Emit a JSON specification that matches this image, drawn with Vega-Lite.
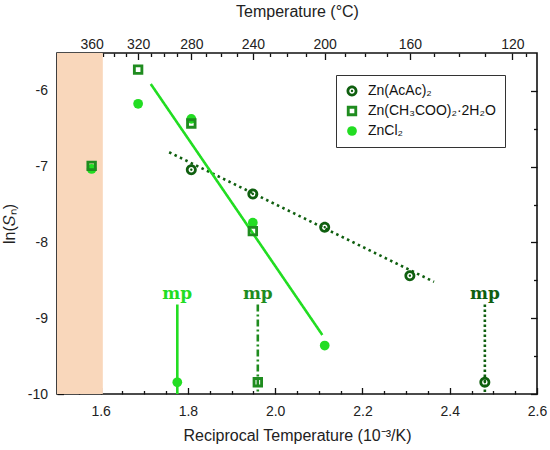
{
  "$schema": "https://vega.github.io/schema/vega-lite/v6.json",
  "width": 480,
  "height": 341,
  "autosize": "none",
  "padding": {"left": 57, "top": 53, "right": 13, "bottom": 56},
  "background": "white",
  "datasets": {
    "band": [{"x": 1.5, "x2": 1.605, "y": -10, "y2": -5.5}],
    "fits": [
      {"compound": "Zn(AcAc)₂", "x": 1.757, "y": -6.81},
      {"compound": "Zn(AcAc)₂", "x": 2.364, "y": -8.52},
      {"compound": "ZnCl₂", "x": 1.715, "y": -5.91},
      {"compound": "ZnCl₂", "x": 2.108, "y": -9.22}
    ],
    "points": [
      {"compound": "ZnCl₂", "x": 1.5794, "y": -7.03},
      {"compound": "ZnCl₂", "x": 1.6859, "y": -6.17},
      {"compound": "ZnCl₂", "x": 1.8078, "y": -6.37},
      {"compound": "ZnCl₂", "x": 1.9488, "y": -7.74},
      {"compound": "ZnCl₂", "x": 2.1135, "y": -9.36},
      {"compound": "ZnCl₂", "x": 1.7757, "y": -9.845},
      {"compound": "Zn(CH₃COO)₂·2H₂O", "x": 1.5794, "y": -6.99},
      {"compound": "Zn(CH₃COO)₂·2H₂O", "x": 1.6859, "y": -5.72},
      {"compound": "Zn(CH₃COO)₂·2H₂O", "x": 1.8078, "y": -6.43},
      {"compound": "Zn(CH₃COO)₂·2H₂O", "x": 1.9488, "y": -7.85},
      {"compound": "Zn(CH₃COO)₂·2H₂O", "x": 1.9602, "y": -9.845},
      {"compound": "Zn(AcAc)₂", "x": 1.8078, "y": -7.04},
      {"compound": "Zn(AcAc)₂", "x": 1.9488, "y": -7.36},
      {"compound": "Zn(AcAc)₂", "x": 2.1135, "y": -7.8},
      {"compound": "Zn(AcAc)₂", "x": 2.3087, "y": -8.44},
      {"compound": "Zn(AcAc)₂", "x": 2.4805, "y": -9.845}
    ],
    "mp": [
      {"compound": "ZnCl₂", "label": "mp", "x": 1.7757, "y": -8.82, "y2": -10, "ty": -8.74},
      {"compound": "Zn(CH₃COO)₂·2H₂O", "label": "mp", "x": 1.9602, "y": -8.82, "y2": -10, "ty": -8.74},
      {"compound": "Zn(AcAc)₂", "label": "mp", "x": 2.4805, "y": -8.82, "y2": -10, "ty": -8.74}
    ]
  },
  "encoding": {
    "x": {"field": "x", "type": "quantitative", "scale": {"domain": [1.5, 2.6], "nice": false, "zero": false}, "axis": null},
    "y": {"field": "y", "type": "quantitative", "scale": {"domain": [-10, -5.5], "nice": false, "zero": false}, "axis": null}
  },
  "layer": [
    {
      "data": {"name": "band"},
      "mark": {"type": "rect", "color": "#f9d7bb"},
      "encoding": {
        "x": {
          "field": "x", "type": "quantitative",
          "scale": {"domain": [1.5, 2.6], "nice": false, "zero": false},
          "axis": {
            "orient": "bottom", "values": [1.6, 1.8, 2.0, 2.2, 2.4, 2.6], "format": ".1f",
            "tickSize": -6.5, "labelPadding": 16.5,
            "title": "Reciprocal Temperature (10⁻³/K)", "titlePadding": 9
          }
        },
        "x2": {"field": "x2"},
        "y2": {"field": "y2"}
      }
    },
    {
      "data": {"name": "fits"},
      "mark": {"type": "line", "strokeWidth": 2.6},
      "encoding": {
        "x": {
          "field": "x", "type": "quantitative",
          "scale": {"domain": [1.5, 2.6], "nice": false, "zero": false},
          "axis": {
            "orient": "bottom",
            "values": [1.55, 1.65, 1.7, 1.75, 1.85, 1.9, 1.95, 2.05, 2.1, 2.15, 2.25, 2.3, 2.35, 2.45, 2.5, 2.55],
            "tickSize": -3.5, "labels": false, "title": null
          }
        },
        "y": {
          "field": "y", "type": "quantitative",
          "scale": {"domain": [-10, -5.5], "nice": false, "zero": false},
          "axis": {
            "orient": "left", "values": [-10, -9, -8, -7, -6],
            "labelExpr": "'-' + format(-datum.value, 'd')",
            "tickSize": -6.5, "labelPadding": 16,
            "title": "ln(𝑆ₙ)", "titlePadding": 10
          }
        },
        "color": {
          "field": "compound", "type": "nominal", "legend": null,
          "scale": {"domain": ["Zn(AcAc)₂", "Zn(CH₃COO)₂·2H₂O", "ZnCl₂"], "range": ["#0f5f0f", "#1f8c1f", "#22dd22"]}
        },
        "strokeDash": {
          "field": "compound", "type": "nominal", "legend": null,
          "scale": {"domain": ["Zn(AcAc)₂", "Zn(CH₃COO)₂·2H₂O", "ZnCl₂"], "range": [[2.5, 3.5], [7, 3, 2, 3], [1, 0]]}
        }
      }
    },
    {
      "data": {"name": "mp"},
      "mark": {"type": "rule", "strokeWidth": 2.6},
      "encoding": {
        "x": {
          "field": "x", "type": "quantitative",
          "scale": {"domain": [1.5, 2.6], "nice": false, "zero": false},
          "axis": {
            "orient": "top",
            "values": [1.5794, 1.68591, 1.80783, 1.94875, 2.11349, 2.30867, 2.54356],
            "labelExpr": "format(1000 / datum.value - 273.15, '.0f')",
            "tickSize": -6.5, "labelPadding": 8,
            "title": "Temperature (°C)", "titlePadding": 18
          }
        },
        "y": {
          "field": "y", "type": "quantitative",
          "scale": {"domain": [-10, -5.5], "nice": false, "zero": false},
          "axis": {"orient": "left", "values": [-9.5, -8.5, -7.5, -6.5], "tickSize": -3.5, "labels": false, "title": null}
        },
        "y2": {"field": "y2"},
        "color": {
          "field": "compound", "type": "nominal", "legend": null,
          "scale": {"domain": ["Zn(AcAc)₂", "Zn(CH₃COO)₂·2H₂O", "ZnCl₂"], "range": ["#0f5f0f", "#1f8c1f", "#22dd22"]}
        },
        "strokeDash": {
          "field": "compound", "type": "nominal", "legend": null,
          "scale": {"domain": ["Zn(AcAc)₂", "Zn(CH₃COO)₂·2H₂O", "ZnCl₂"], "range": [[2.5, 2.5], [7, 3, 2, 3], [1, 0]]}
        }
      }
    },
    {
      "data": {"name": "points"},
      "mark": {"type": "point", "filled": true, "opacity": 1},
      "encoding": {
        "y": {
          "field": "y", "type": "quantitative",
          "scale": {"domain": [-10, -5.5], "nice": false, "zero": false},
          "axis": {"orient": "right", "values": [-9.5, -8.5, -7.5, -6.5], "tickSize": -3.5, "labels": false, "title": null}
        },
        "color": {
          "field": "compound", "type": "nominal",
          "scale": {"domain": ["Zn(AcAc)₂", "Zn(CH₃COO)₂·2H₂O", "ZnCl₂"], "range": ["#0f5f0f", "#1f8c1f", "#22dd22"]},
          "legend": {
            "orient": "none", "legendX": 279, "legendY": 22, "title": null,
            "strokeColor": "#333", "padding": 9, "rowPadding": 6,
            "labelFont": "Liberation Sans", "labelFontSize": 14, "labelColor": "#111",
            "labelOffset": 9, "symbolSize": 130, "symbolStrokeWidth": 0
          }
        },
        "shape": {
          "field": "compound", "type": "nominal",
          "scale": {
            "domain": ["Zn(AcAc)₂", "Zn(CH₃COO)₂·2H₂O", "ZnCl₂"],
            "range": [
              "M-1,0A1,1,0,1,1,1,0A1,1,0,1,1,-1,0ZM-0.5,0A0.5,0.5,0,1,0,0.5,0A0.5,0.5,0,1,0,-0.5,0ZM-0.22,0A0.22,0.22,0,1,1,0.22,0A0.22,0.22,0,1,1,-0.22,0Z",
              "M-1,-1H1V1H-1ZM-0.45,-0.45V0.45H0.45V-0.45Z",
              "circle"
            ]
          },
          "legend": {
            "orient": "none", "legendX": 279, "legendY": 22, "title": null,
            "strokeColor": "#333", "padding": 9, "rowPadding": 6,
            "labelFont": "Liberation Sans", "labelFontSize": 14, "labelColor": "#111",
            "labelOffset": 9, "symbolSize": 130, "symbolStrokeWidth": 0
          }
        },
        "size": {
          "field": "compound", "type": "ordinal", "legend": null,
          "scale": {"domain": ["Zn(AcAc)₂", "Zn(CH₃COO)₂·2H₂O", "ZnCl₂"], "range": [120, 95, 160]}
        }
      }
    },
    {
      "data": {"name": "mp"},
      "mark": {"type": "text", "font": "DejaVu Serif", "fontWeight": "bold", "fontSize": 17, "baseline": "alphabetic", "align": "center"},
      "encoding": {
        "x": {
          "field": "x", "type": "quantitative",
          "scale": {"domain": [1.5, 2.6], "nice": false, "zero": false},
          "axis": {
            "orient": "top",
            "values": [1.50795, 1.53104, 1.55485, 1.60475, 1.63092, 1.65796, 1.71483, 1.74474, 1.77573, 1.84111, 1.87565, 1.9115, 1.98748, 2.02778, 2.06975, 2.15913, 2.20678, 2.25657, 2.36323, 2.42043, 2.48047, 2.57565],
            "tickSize": -3.5, "labels": false, "title": null
          }
        },
        "y": {
          "field": "ty", "type": "quantitative",
          "scale": {"domain": [-10, -5.5], "nice": false, "zero": false},
          "axis": {"orient": "right", "values": [-10, -9, -8, -7, -6], "tickSize": -6.5, "labels": false, "title": null}
        },
        "text": {"field": "label"},
        "color": {
          "field": "compound", "type": "nominal", "legend": null,
          "scale": {"domain": ["Zn(AcAc)₂", "Zn(CH₃COO)₂·2H₂O", "ZnCl₂"], "range": ["#0f5f0f", "#1f8c1f", "#22dd22"]}
        }
      }
    }
  ],
  "resolve": {
    "axis": {"x": "independent", "y": "independent"},
    "scale": {"color": "independent", "strokeDash": "independent", "shape": "independent", "size": "independent"},
    "legend": {"color": "independent", "strokeDash": "independent", "shape": "independent", "size": "independent"}
  },
  "config": {
    "view": {"stroke": "#111", "strokeWidth": 1.6},
    "axis": {
      "labelFont": "Liberation Sans", "labelFontSize": 14, "labelColor": "#222",
      "titleFont": "Liberation Sans", "titleFontSize": 16, "titleFontWeight": "normal", "titleColor": "#222",
      "tickColor": "#111", "tickWidth": 1.3, "domain": false, "grid": false, "labelFlush": false
    }
  }
}
